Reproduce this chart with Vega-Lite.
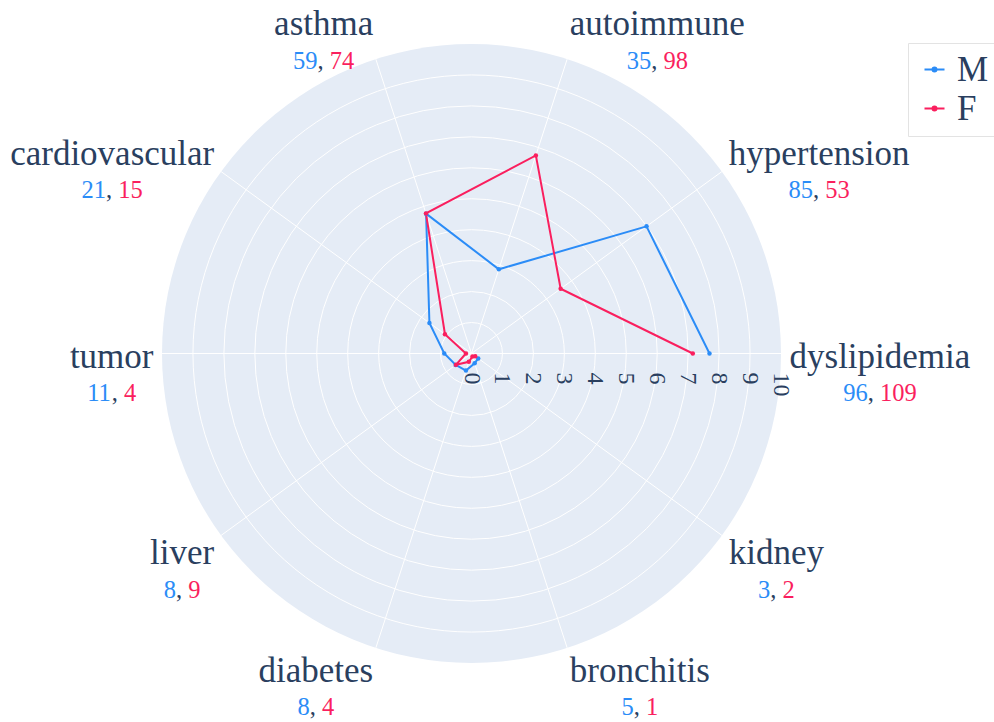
{
  "$schema": "https://vega.github.io/schema/vega-lite/v6.json",
  "width": 619,
  "height": 619,
  "autosize": {"type": "none"},
  "padding": {"left": 162, "top": 44, "right": 213, "bottom": 59},
  "background": "white",
  "config": {"view": {"stroke": null}, "font": "Liberation Serif"},
  "data": {
    "values": [
      {"category": "dyslipidemia", "sex": "M", "count": 96, "r": 7.69},
      {"category": "hypertension", "sex": "M", "count": 85, "r": 6.99},
      {"category": "autoimmune", "sex": "M", "count": 35, "r": 2.86},
      {"category": "asthma", "sex": "M", "count": 59, "r": 4.75},
      {"category": "cardiovascular", "sex": "M", "count": 21, "r": 1.68},
      {"category": "tumor", "sex": "M", "count": 11, "r": 0.88},
      {"category": "liver", "sex": "M", "count": 8, "r": 0.63},
      {"category": "diabetes", "sex": "M", "count": 8, "r": 0.58},
      {"category": "bronchitis", "sex": "M", "count": 5, "r": 0.33},
      {"category": "kidney", "sex": "M", "count": 3, "r": 0.27},
      {"category": "dyslipidemia", "sex": "F", "count": 109, "r": 7.15},
      {"category": "hypertension", "sex": "F", "count": 53, "r": 3.56},
      {"category": "autoimmune", "sex": "F", "count": 98, "r": 6.73},
      {"category": "asthma", "sex": "F", "count": 74, "r": 4.76},
      {"category": "cardiovascular", "sex": "F", "count": 15, "r": 1.06},
      {"category": "tumor", "sex": "F", "count": 4, "r": 0.18},
      {"category": "liver", "sex": "F", "count": 9, "r": 0.62},
      {"category": "diabetes", "sex": "F", "count": 4, "r": 0.28},
      {"category": "bronchitis", "sex": "F", "count": 1, "r": 0.1},
      {"category": "kidney", "sex": "F", "count": 2, "r": 0.15}
    ]
  },
  "layer": [
    {
      "data": {"values": [{"r": 10}]},
      "transform": [{"calculate": "0", "as": "o"}],
      "mark": {"type": "point", "shape": "circle", "filled": true, "color": "#e5ecf6", "opacity": 1, "strokeWidth": 0},
      "encoding": {
        "x": {"field": "o", "type": "quantitative", "scale": {"domain": [-10, 10], "nice": false, "zero": false}, "axis": null},
        "y": {"field": "o", "type": "quantitative", "scale": {"domain": [-10, 10], "nice": false, "zero": false}, "axis": null},
        "size": {"field": "r", "type": "quantitative", "scale": {"type": "pow", "exponent": 2, "domain": [0, 10], "range": [0, 383161], "zero": true}, "legend": null}
      }
    },
    {
      "data": {"values": [{"r": 1}, {"r": 2}, {"r": 3}, {"r": 4}, {"r": 5}, {"r": 6}, {"r": 7}, {"r": 8}, {"r": 9}]},
      "transform": [{"calculate": "0", "as": "o"}],
      "mark": {"type": "point", "shape": "circle", "filled": false, "stroke": "white", "strokeWidth": 1, "opacity": 1},
      "encoding": {
        "x": {"field": "o", "type": "quantitative", "scale": {"domain": [-10, 10], "nice": false, "zero": false}, "axis": null},
        "y": {"field": "o", "type": "quantitative", "scale": {"domain": [-10, 10], "nice": false, "zero": false}, "axis": null},
        "size": {"field": "r", "type": "quantitative", "scale": {"type": "pow", "exponent": 2, "domain": [0, 10], "range": [0, 383161], "zero": true}, "legend": null}
      }
    },
    {
      "transform": [
        {"filter": "datum.sex == 'M'"},
        {"calculate": "indexof(['dyslipidemia','hypertension','autoimmune','asthma','cardiovascular','tumor','liver','diabetes','bronchitis','kidney'], datum.category) * PI / 5", "as": "rad"},
        {"calculate": "10 * cos(datum.rad)", "as": "ex"},
        {"calculate": "10 * sin(datum.rad)", "as": "ey"},
        {"calculate": "0", "as": "o"}
      ],
      "mark": {"type": "rule", "color": "white", "strokeWidth": 1},
      "encoding": {
        "x": {"field": "o", "type": "quantitative", "scale": {"domain": [-10, 10], "nice": false, "zero": false}, "axis": null},
        "y": {"field": "o", "type": "quantitative", "scale": {"domain": [-10, 10], "nice": false, "zero": false}, "axis": null},
        "x2": {"field": "ex"},
        "y2": {"field": "ey"}
      }
    },
    {
      "data": {"values": [{"t": 0}, {"t": 1}, {"t": 2}, {"t": 3}, {"t": 4}, {"t": 5}, {"t": 6}, {"t": 7}, {"t": 8}, {"t": 9}, {"t": 10}]},
      "transform": [{"calculate": "0", "as": "o"}],
      "mark": {"type": "text", "angle": 90, "align": "left", "baseline": "middle", "dx": 19, "fontSize": 24, "font": "Liberation Serif", "color": "#2a3f5f"},
      "encoding": {
        "x": {"field": "t", "type": "quantitative", "scale": {"domain": [-10, 10], "nice": false, "zero": false}, "axis": null},
        "y": {"field": "o", "type": "quantitative", "scale": {"domain": [-10, 10], "nice": false, "zero": false}, "axis": null},
        "text": {"field": "t", "type": "quantitative"}
      }
    },
    {
      "transform": [
        {"calculate": "indexof(['dyslipidemia','hypertension','autoimmune','asthma','cardiovascular','tumor','liver','diabetes','bronchitis','kidney'], datum.category)", "as": "idx"},
        {"calculate": "datum.idx * PI / 5", "as": "rad"},
        {"calculate": "datum.r * cos(datum.rad)", "as": "px"},
        {"calculate": "datum.r * sin(datum.rad)", "as": "py"}
      ],
      "mark": {"type": "line", "strokeWidth": 2, "point": {"filled": true, "size": 20}},
      "encoding": {
        "x": {"field": "px", "type": "quantitative", "scale": {"domain": [-10, 10], "nice": false, "zero": false}, "axis": null},
        "y": {"field": "py", "type": "quantitative", "scale": {"domain": [-10, 10], "nice": false, "zero": false}, "axis": null},
        "order": {"field": "idx", "type": "quantitative"},
        "color": {
          "field": "sex", "type": "nominal",
          "scale": {"domain": ["M", "F"], "range": ["#2b8cf7", "#fa1f5e"]},
          "legend": {
            "orient": "none", "legendX": 746, "legendY": -1, "title": null,
            "labelFont": "Liberation Serif", "labelFontSize": 35, "labelColor": "#2a3f5f",
            "symbolType": "M-1,0L1,0M-0.2,0A0.2,0.2 0 1,0 0.2,0A0.2,0.2 0 1,0 -0.2,0",
            "symbolSize": 400, "symbolStrokeWidth": 2,
            "fillColor": "white", "strokeColor": "#e3e3e3", "padding": 9, "rowPadding": 3, "labelOffset": 5
          }
        }
      }
    },
    {
      "transform": [
        {"pivot": "sex", "value": "count", "groupby": ["category"]},
        {"calculate": "indexof(['dyslipidemia','hypertension','autoimmune','asthma','cardiovascular','tumor','liver','diabetes','bronchitis','kidney'], datum.category) * PI / 5", "as": "rad"},
        {"calculate": "cos(datum.rad)", "as": "c"},
        {"calculate": "sin(datum.rad)", "as": "s"},
        {"calculate": "datum.c > 0.1 ? 1 : (datum.c < -0.1 ? -1 : 0)", "as": "side"},
        {"calculate": "35 * (0.5*length(datum.category) - 0.222*length(replace(datum.category, regexp('[^iltj]','g'), '')) - 0.167*length(replace(datum.category, regexp('[^rf]','g'), '')) - 0.111*length(replace(datum.category, regexp('[^s]','g'), '')) - 0.056*length(replace(datum.category, regexp('[^acez]','g'), '')) + 0.278*length(replace(datum.category, regexp('[^m]','g'), '')))", "as": "wpx"},
        {"calculate": "318 * datum.c + datum.side * datum.wpx / 2", "as": "cxp"},
        {"calculate": "datum.cxp / 30.95", "as": "lx"},
        {"calculate": "((datum.s > 0 ? 341.6 : 338.4) * datum.s - 11 * abs(datum.c) - 3) / 30.95", "as": "ly"},
        {"calculate": "datum.ly - 33.5 / 30.95", "as": "ly2"},
        {"calculate": "length(toString(datum.M))", "as": "nM"},
        {"calculate": "length(toString(datum.F))", "as": "nF"},
        {"calculate": "24.5 * (0.5 * (datum.nM + datum.nF) + 0.5)", "as": "wc"},
        {"calculate": "datum.cxp - datum.wc / 2", "as": "leftpx"},
        {"calculate": "datum.leftpx / 30.95", "as": "bx"},
        {"calculate": "(datum.leftpx + 12.25 * datum.nM) / 30.95", "as": "commax"},
        {"calculate": "(datum.leftpx + datum.wc) / 30.95", "as": "rx"}
      ],
      "layer": [
        {
          "mark": {"type": "text", "align": "center", "baseline": "alphabetic", "fontSize": 35, "font": "Liberation Serif", "color": "#2a3f5f"},
          "encoding": {
            "x": {"field": "lx", "type": "quantitative", "scale": {"domain": [-10, 10], "nice": false, "zero": false}, "axis": null},
            "y": {"field": "ly", "type": "quantitative", "scale": {"domain": [-10, 10], "nice": false, "zero": false}, "axis": null},
            "text": {"field": "category", "type": "nominal"}
          }
        },
        {
          "mark": {"type": "text", "align": "left", "baseline": "alphabetic", "fontSize": 24.5, "font": "Liberation Serif", "color": "#2b8cf7"},
          "encoding": {
            "x": {"field": "bx", "type": "quantitative", "scale": {"domain": [-10, 10], "nice": false, "zero": false}, "axis": null},
            "y": {"field": "ly2", "type": "quantitative", "scale": {"domain": [-10, 10], "nice": false, "zero": false}, "axis": null},
            "text": {"field": "M", "type": "nominal"}
          }
        },
        {
          "mark": {"type": "text", "align": "left", "baseline": "alphabetic", "fontSize": 24.5, "font": "Liberation Serif", "color": "#2a3f5f", "text": ","},
          "encoding": {
            "x": {"field": "commax", "type": "quantitative", "scale": {"domain": [-10, 10], "nice": false, "zero": false}, "axis": null},
            "y": {"field": "ly2", "type": "quantitative", "scale": {"domain": [-10, 10], "nice": false, "zero": false}, "axis": null}
          }
        },
        {
          "mark": {"type": "text", "align": "right", "baseline": "alphabetic", "fontSize": 24.5, "font": "Liberation Serif", "color": "#fa1f5e"},
          "encoding": {
            "x": {"field": "rx", "type": "quantitative", "scale": {"domain": [-10, 10], "nice": false, "zero": false}, "axis": null},
            "y": {"field": "ly2", "type": "quantitative", "scale": {"domain": [-10, 10], "nice": false, "zero": false}, "axis": null},
            "text": {"field": "F", "type": "nominal"}
          }
        }
      ]
    }
  ]
}
